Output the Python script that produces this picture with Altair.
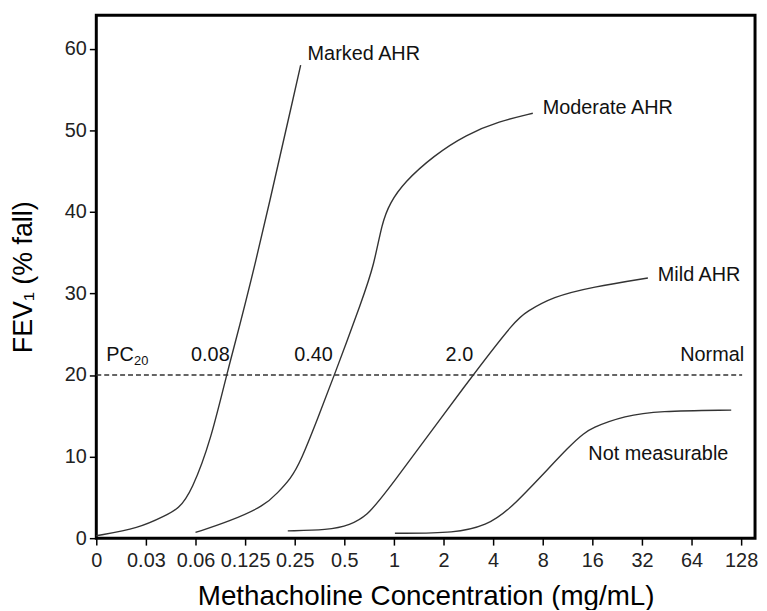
import json
import altair as alt
import pandas as pd

# x axis: equally spaced doubling concentrations (positions 0..13)
x_ticks = ["0", "0.03", "0.06", "0.125", "0.25", "0.5", "1", "2", "4", "8", "16", "32", "64", "128"]
y_ticks = [0, 10, 20, 30, 40, 50, 60]

# curves, x in tick-position units, y in % fall of FEV1
marked_x = [0, 0.86, 1.4, 1.66, 1.92, 2.32, 2.62, 3.14, 4.12]
marked_y = [0.3, 1.2, 2.8, 3.6, 5.7, 12.2, 20, 31.6, 58.0]

moderate_x = [2.0, 2.7, 3.4, 3.66, 3.92, 4.12, 4.46, 4.8, 5.36, 5.6, 5.76, 5.92, 6.2, 6.8, 7.46, 8.12, 8.8]
moderate_y = [0.7, 2.1, 4.0, 5.6, 7.3, 9.4, 14.6, 20, 29.2, 33.5, 38.7, 41.1, 43.6, 46.9, 49.5, 51.1, 52.1]

mild_x = [3.86, 4.66, 5.12, 5.46, 5.8, 7.56, 8.46, 8.66, 9.2, 10.0, 11.12]
mild_y = [0.9, 1.0, 1.6, 2.8, 5.2, 19.8, 26.8, 27.7, 29.6, 30.8, 31.9]

notm_x = [6.02, 7.26, 7.86, 8.33, 9.66, 10.0, 10.66, 11.32, 12.8]
notm_y = [0.6, 0.6, 1.6, 3.3, 12.2, 13.6, 15.0, 15.6, 15.7]

pc20_level = 20
pc20_start = 0
pc20_end = 13.02

# annotations (left aligned)
ann_text = ["Marked AHR", "Moderate AHR", "Mild AHR", "Not measurable", "PC", "20"]
ann_x = [4.26, 9.0, 11.32, 9.92, 0.2, 0.76]
ann_y = [59.4, 52.7, 32.2, 10.3, 22.4, 21.7]
ann_size = [20, 20, 20, 20, 20, 13]

# PC20 values (centered)
pc_text = ["0.08", "0.40", "2.0"]
pc_x = [2.3, 4.38, 7.32]
pc_y = [22.4, 22.4, 22.4]

# right aligned
right_text = ["Normal"]
right_x = [13.06]
right_y = [22.4]

FONT = "Liberation Sans"
LINE = "#333333"

curves = []
for name, xs, ys in [("Marked", marked_x, marked_y), ("Moderate", moderate_x, moderate_y),
                     ("Mild", mild_x, mild_y), ("Not", notm_x, notm_y)]:
    for i, (a, b) in enumerate(zip(xs, ys)):
        curves.append({"curve": name, "x": a, "y": b, "order": i})
curves_df = pd.DataFrame(curves)

xscale = alt.Scale(domain=[0, 13.28], nice=False, zero=False)
yscale = alt.Scale(domain=[0, 64.1], nice=False)

label_expr = json.dumps(x_ticks) + "[datum.value]"

base_x = alt.X("x:Q", scale=xscale,
               axis=alt.Axis(values=list(range(len(x_ticks))), labelExpr=label_expr,
                             title="Methacholine Concentration (mg/mL)",
                             titleFontSize=28, titleFont=FONT, titleFontWeight="normal",
                             titleColor="black", titlePadding=12,
                             labelFont=FONT, labelFontSize=20, labelColor="#222222",
                             labelPadding=6, tickSize=7, tickColor="black", tickWidth=1.5,
                             domain=False, grid=False, labelFlush=False, labelOverlap=False))
base_y = alt.Y("y:Q", scale=yscale,
               axis=alt.Axis(values=y_ticks, title="FEV₁ (% fall)",
                             titleFontSize=27, titleFont=FONT, titleFontWeight="normal",
                             titleColor="black", titlePadding=27,
                             labelFont=FONT, labelFontSize=20, labelColor="#222222",
                             labelPadding=3, tickSize=7, tickColor="black", tickWidth=1.5,
                             domain=False, grid=False))

lines = alt.Chart(curves_df).mark_line(color=LINE, strokeWidth=1.4, interpolate="basis").encode(
    x=base_x, y=base_y, detail="curve:N", order="order:Q")

rule_df = pd.DataFrame({"x": [pc20_start], "x2": [pc20_end], "y": [pc20_level]})
rule = alt.Chart(rule_df).mark_rule(color=LINE, strokeWidth=1.4, strokeDash=[5, 3]).encode(
    x=alt.X("x:Q", scale=xscale), x2="x2:Q", y=alt.Y("y:Q", scale=yscale))

ann_df = pd.DataFrame({"t": ann_text, "x": ann_x, "y": ann_y, "s": ann_size})
ann = alt.Chart(ann_df).mark_text(align="left", baseline="middle", font=FONT, color="#111111").encode(
    x=alt.X("x:Q", scale=xscale), y=alt.Y("y:Q", scale=yscale), text="t:N",
    size=alt.Size("s:Q", scale=None, legend=None))

pc_df = pd.DataFrame({"t": pc_text, "x": pc_x, "y": pc_y})
pcs = alt.Chart(pc_df).mark_text(align="center", baseline="middle", font=FONT, fontSize=20,
                                 color="#111111").encode(
    x=alt.X("x:Q", scale=xscale), y=alt.Y("y:Q", scale=yscale), text="t:N")

r_df = pd.DataFrame({"t": right_text, "x": right_x, "y": right_y})
rights = alt.Chart(r_df).mark_text(align="right", baseline="middle", font=FONT, fontSize=20,
                                   color="#111111").encode(
    x=alt.X("x:Q", scale=xscale), y=alt.Y("y:Q", scale=yscale), text="t:N")

chart = alt.layer(lines, rule, ann, pcs, rights).properties(
    width=664, height=527,
    background="white",
    autosize=alt.AutoSizeParams(type="none"),
    padding={"left": 89, "top": 5, "right": 4, "bottom": 70},
).configure_view(stroke="black", strokeWidth=3)

chart.save("out.html", embed_options={"renderer": "svg", "actions": False})
